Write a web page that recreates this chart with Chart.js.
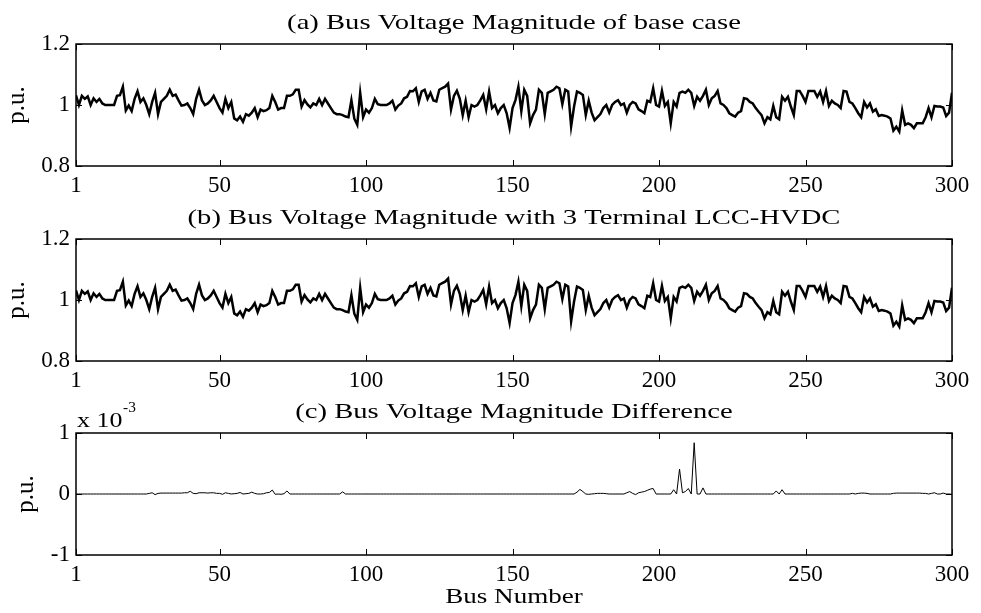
<!DOCTYPE html>
<html>
<head>
<meta charset="utf-8">
<script src="https://cdn.jsdelivr.net/npm/chart.js@4.4.1/dist/chart.umd.min.js"></script>
<style>
  body { margin: 0; background: #fff; }
  #wrap { position: relative; width: 981px; height: 613px; background: #fff; }
  canvas { position: absolute; left: 0; }
</style>
</head>
<body>
<div id="wrap">
  <canvas id="chartA" width="981" height="200" style="top:0px"></canvas>
  <canvas id="chartB" width="981" height="200" style="top:195px"></canvas>
  <canvas id="chartC" width="981" height="224" style="top:389px"></canvas>
</div>
<script>
// x axis: bus index 1..300
const busNumbers = Array.from({ length: 300 }, (_, i) => i + 1);
const xTicks = [1, 50, 100, 150, 200, 250, 300];
const yTicksVoltage = [0.8, 1, 1.2];
const yTicksDiff = [-1, 0, 1];

// (a) bus voltage magnitude, base case (p.u.)
const voltageBase = [
  1.032, 1.000, 1.030, 1.020, 1.028, 1.000, 1.022, 1.010, 1.020, 1.005,
  1.000, 1.000, 1.000, 1.000, 1.030, 1.032, 1.060, 0.982, 0.998, 0.980,
  1.020, 1.045, 1.010, 1.022, 1.000, 0.970, 1.010, 1.040, 0.970, 1.010,
  1.020, 1.030, 1.050, 1.030, 1.034, 1.015, 0.998, 1.000, 1.005, 0.990,
  0.970, 1.020, 1.050, 1.015, 1.000, 1.005, 1.015, 1.030, 1.010, 0.990,
  0.975, 1.020, 0.990, 1.010, 0.956, 0.950, 0.962, 0.945, 0.970, 0.965,
  0.975, 0.990, 0.960, 0.985, 0.980, 0.983, 0.990, 1.030, 1.010, 0.985,
  0.990, 0.990, 1.030, 1.030, 1.035, 1.050, 1.050, 0.995, 1.016, 1.002,
  0.992, 1.005, 1.000, 1.020, 1.000, 1.020, 1.005, 0.990, 0.975, 0.970,
  0.970, 0.967, 0.962, 0.960, 1.016, 0.955, 0.935, 1.040, 0.960, 0.985,
  0.975, 0.990, 1.020, 1.003, 1.000, 1.000, 1.000, 1.005, 1.014, 0.985,
  0.998, 1.005, 1.022, 1.027, 1.046, 1.045, 1.055, 1.010, 1.045, 1.050,
  1.020, 1.040, 1.015, 1.012, 1.050, 1.055, 1.060, 1.070, 0.985, 1.030,
  1.047, 1.020, 0.967, 1.014, 0.960, 1.000, 0.995, 1.000, 1.015, 1.033,
  0.986, 1.044, 0.990, 1.000, 0.973, 0.990, 1.000, 0.973, 0.925, 0.990,
  1.016, 1.060, 0.980, 1.050, 1.030, 0.940, 0.967, 0.985, 1.050, 1.040,
  0.970, 1.040, 1.045, 1.050, 1.060, 1.055, 1.003, 1.050, 1.044, 0.930,
  0.995, 1.044, 1.040, 1.033, 0.967, 1.014, 0.975, 0.950, 0.960, 0.970,
  0.990, 1.000, 0.975, 1.000, 1.010, 1.016, 1.000, 1.005, 0.975, 1.000,
  1.010, 1.005, 0.986, 0.980, 0.973, 1.014, 1.010, 1.055, 1.000, 0.995,
  1.046, 0.997, 1.010, 0.940, 1.010, 0.995, 1.040, 1.044, 1.040, 1.050,
  1.040, 0.997, 1.027, 1.014, 1.030, 1.050, 1.000, 1.022, 1.030, 1.046,
  1.005, 1.000, 0.990, 0.973, 0.967, 0.962, 0.975, 0.980, 1.022, 1.020,
  1.010, 1.005, 0.990, 0.978, 0.967, 0.940, 0.960, 0.953, 0.997, 0.960,
  0.953, 1.027, 1.014, 1.027, 0.995, 0.967, 1.046, 1.046, 1.030, 1.010,
  1.046, 1.046, 1.046, 1.027, 1.044, 1.010, 1.046, 0.997, 1.014, 1.005,
  1.000, 0.990, 1.046, 1.044, 1.010, 1.005, 0.990, 0.973, 0.960, 1.010,
  0.992, 1.005, 0.978, 0.986, 0.964, 0.967, 0.965, 0.962, 0.956, 0.916,
  0.929, 0.913, 0.982, 0.935, 0.940, 0.935, 0.924, 0.940, 0.940, 0.940,
  0.960, 0.990, 0.960, 0.997, 0.995, 0.995, 0.992, 0.964, 0.975, 1.040
];

// (b) with 3 terminal LCC-HVDC: differs from (a) by < 1e-3, so it reads the same
const voltageHvdc = voltageBase.slice();

// (c) difference, in units of 1e-3 p.u.
const voltageDiff = [
  0, 0, 0, 0, 0, 0, 0, 0, 0, 0,
  0, 0, 0, 0, 0, 0, 0, 0, 0, 0,
  0, 0, 0, 0, 0, 0.01, 0.02, -0.01, 0.01, 0.015,
  0.015, 0.015, 0.015, 0.015, 0.015, 0.015, 0.015, 0.02, 0.02, 0.045,
  0.01, 0.005, 0.02, 0.02, 0.02, 0.015, 0.02, 0.02, 0.01, 0.01,
  -0.005, 0.02, 0.01, 0, 0.005, 0.01, 0.025, 0, 0.005, 0.01,
  0.03, 0.01, 0, 0, 0.005, 0.02, 0.025, 0.065, -0.005, 0,
  -0.005, 0.005, 0.05, 0, 0, 0, 0, 0, 0, 0,
  0, 0, 0, 0, 0, 0, 0, 0, 0, 0,
  0, 0.035, 0, 0, 0, 0, 0, 0, 0, 0,
  0, 0, 0, 0, 0, 0, 0, 0, 0, 0,
  0, 0, 0, 0, 0, 0, 0, 0, 0, 0,
  0, 0, 0, 0, 0, 0, 0, 0, 0, 0,
  0, 0, 0, 0, 0, 0, 0, 0, 0, 0,
  0, 0, 0, 0, 0, 0, 0, 0, 0, 0,
  0, 0, 0, 0, 0, 0, 0, 0, 0, 0,
  0, 0, 0, 0, 0, 0, 0, 0, 0, 0,
  0, 0.03, 0.075, 0.04, 0, -0.005, 0, 0.005, 0.01, 0.01,
  0.01, 0.005, 0, 0, 0, 0, 0, 0, 0.02, 0.04,
  0.01, -0.01, 0.02, 0.03, 0.04, 0.06, 0.08, 0.09, 0, 0,
  0, 0, 0, 0, 0.07, 0, 0.41, 0.02, 0.04, 0.09,
  0, 0.84, 0, 0, 0.1, 0, 0, 0, 0, 0,
  0, 0, 0, 0, 0, 0, 0, 0, 0, 0,
  0, 0, 0, 0, 0, 0, 0, 0, 0, 0.05,
  0, 0.07, 0, 0, 0, 0, 0, 0, 0, 0,
  0, 0, 0, 0, 0, 0, 0, 0, 0, 0,
  0, 0, 0, 0, 0, 0.01, 0, 0.01, 0.015, 0.015,
  0.01, 0, 0, 0, 0, 0, 0, 0, 0, 0.01,
  0.015, 0.015, 0.015, 0.015, 0.015, 0.015, 0.015, 0.015, 0.015, 0.01,
  0.01, 0, 0.01, 0.02, 0, 0, 0.015, 0, 0, -0.005
];

const FONT = "'Liberation Serif', 'Times New Roman', serif";
const PAD_TOP = 44;     // room above the box for the subplot title
const AREA_H = 122;     // height of each axes box
const TICK_LEN = 6;     // inward tick marks, matlab style

// text in the picture is a bit wider than a normal serif face
function drawText(ctx, text, x, y, size, stretch, align) {
  ctx.save();
  ctx.font = size + 'px ' + FONT;
  ctx.fillStyle = '#000';
  ctx.textAlign = align || 'center';
  ctx.textBaseline = 'alphabetic';
  ctx.translate(x, y);
  ctx.scale(stretch, 1);
  ctx.fillText(text, 0, 0);
  ctx.restore();
}

// box, inward ticks, title and labels
const boxPlugin = {
  id: 'matlabBox',
  afterDraw(chart, args, opts) {
    const ctx = chart.ctx;
    const a = chart.chartArea;
    const xs = chart.scales.x;
    const ys = chart.scales.y;

    ctx.save();
    ctx.strokeStyle = '#000';
    ctx.lineWidth = 1.5;
    ctx.strokeRect(a.left, a.top, a.right - a.left, a.bottom - a.top);
    ctx.lineWidth = 1;
    ctx.beginPath();
    xs.ticks.forEach(t => {
      const px = Math.round(xs.getPixelForValue(t.value)) + 0.5;
      ctx.moveTo(px, a.bottom); ctx.lineTo(px, a.bottom - TICK_LEN);
      ctx.moveTo(px, a.top); ctx.lineTo(px, a.top + TICK_LEN);
    });
    ys.ticks.forEach(t => {
      const py = Math.round(ys.getPixelForValue(t.value)) + 0.5;
      ctx.moveTo(a.left, py); ctx.lineTo(a.left + TICK_LEN, py);
      ctx.moveTo(a.right, py); ctx.lineTo(a.right - TICK_LEN, py);
    });
    ctx.stroke();
    ctx.restore();

    drawText(ctx, opts.title, (a.left + a.right) / 2, a.top - 15, 22, 1.3);

    // rotated y label
    ctx.save();
    ctx.translate(opts.ylabelX, (a.top + a.bottom) / 2);
    ctx.rotate(-Math.PI / 2);
    ctx.font = '25px ' + FONT;
    ctx.fillStyle = '#000';
    ctx.textAlign = 'center';
    ctx.textBaseline = 'middle';
    ctx.fillText('p.u.', 0, 0);
    ctx.restore();

    if (opts.exponent) {
      drawText(ctx, 'x 10', a.left + 1, a.top - 6, 22, 1.18, 'left');
      drawText(ctx, opts.exponent, a.left + 47, a.top - 21, 14, 1.1, 'left');
    }
    if (opts.xlabel) {
      drawText(ctx, opts.xlabel, (a.left + a.right) / 2, a.bottom + 48, 22, 1.23);
    }
  }
};

function makeConfig(values, canvasH, yMin, yMax, yTicks, lineWidth, extra) {
  const tickFont = { family: FONT, size: 23 };
  return {
    type: 'line',
    data: {
      datasets: [{
        data: busNumbers.map((b, i) => ({ x: b, y: values[i] })),
        borderColor: '#000',
        borderWidth: lineWidth,
        pointRadius: 0,
        tension: 0,
        fill: false
      }]
    },
    options: {
      responsive: false,
      animation: false,
      layout: { padding: { top: PAD_TOP, right: 29, left: 0, bottom: 0 } },
      scales: {
        x: {
          type: 'linear',
          min: 1,
          max: 300,
          grid: { display: false, drawTicks: false },
          border: { display: false },
          afterBuildTicks: s => { s.ticks = xTicks.map(v => ({ value: v })); },
          afterFit: s => { s.height = canvasH - PAD_TOP - AREA_H; },
          ticks: { font: tickFont, color: '#000', padding: 6, maxRotation: 0, autoSkip: false, callback: v => String(v) }
        },
        y: {
          min: yMin,
          max: yMax,
          grid: { display: false, drawTicks: false },
          border: { display: false },
          afterBuildTicks: s => { s.ticks = yTicks.map(v => ({ value: v })); },
          afterFit: s => { s.width = 76; },
          ticks: { font: tickFont, color: '#000', padding: 6, callback: v => String(v) }
        }
      },
      plugins: {
        legend: { display: false },
        tooltip: { enabled: false },
        matlabBox: extra
      }
    },
    plugins: [boxPlugin]
  };
}

new Chart(document.getElementById('chartA'), makeConfig(voltageBase, 200, 0.8, 1.2, yTicksVoltage, 2.5, {
  title: '(a) Bus Voltage Magnitude of base case', ylabelX: 17.5
}));
new Chart(document.getElementById('chartB'), makeConfig(voltageHvdc, 200, 0.8, 1.2, yTicksVoltage, 2.5, {
  title: '(b) Bus Voltage Magnitude with 3 Terminal LCC-HVDC', ylabelX: 17.5
}));
new Chart(document.getElementById('chartC'), makeConfig(voltageDiff, 224, -1, 1, yTicksDiff, 1, {
  title: '(c) Bus Voltage Magnitude Difference', ylabelX: 26, exponent: '-3', xlabel: 'Bus Number'
}));
</script>
</body>
</html>
